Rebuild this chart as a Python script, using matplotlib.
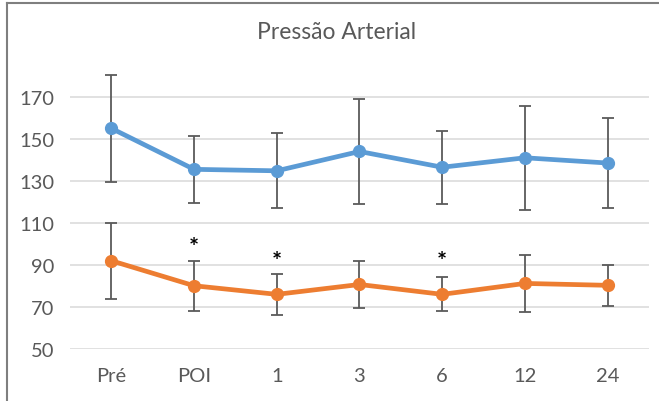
import matplotlib
matplotlib.use("Agg")
import matplotlib.pyplot as plt
from matplotlib.lines import Line2D

# Time points and series (mean ± SD)
categories = ["Pré", "POI", "1", "3", "6", "12", "24"]
pas_mean = [155.0, 135.5, 134.8, 144.0, 136.5, 141.0, 138.5]
pas_sd = [25.6, 16.1, 17.9, 25.2, 17.3, 24.7, 21.2]
pad_mean = [92.0, 80.1, 76.0, 80.7, 76.0, 81.2, 80.3]
pad_sd = [18.0, 12.0, 9.8, 11.0, 8.1, 13.5, 9.7]

# Significance marks: (category index, height)
sig_marks = [(1, 101.5), (2, 94.4), (4, 94.4)]

y_ticks = [50, 70, 90, 110, 130, 150, 170]

plt.rcParams["font.family"] = ["Lato", "DejaVu Sans"]

fig = plt.figure(figsize=(6.59, 4.02), dpi=100)
ax = fig.add_axes([0.1062, 0.1294, 0.8786, 0.7056])

x = list(range(len(categories)))
blue = "#5B9BD5"
orange = "#ED7D31"
err_color = "#5A5A5A"

for mean, sd, color in [(pas_mean, pas_sd, blue), (pad_mean, pad_sd, orange)]:
    ax.errorbar(x, mean, yerr=sd, fmt="none", ecolor=err_color,
                elinewidth=1.3, capsize=4.5, capthick=1.3, zorder=3)
    ax.plot(x, mean, color=color, lw=3.4, marker="o", markersize=8.5,
            solid_capstyle="round", zorder=4)

# Asterisk glyphs sit high in their box, so nudge them down onto the mark height
for xi, yi in sig_marks:
    ax.annotate("*", xy=(xi, yi), xytext=(0, -4.5), textcoords="offset points",
                ha="center", va="center", fontsize=17, fontweight="bold",
                color="black", zorder=5)

ax.set_xlim(-0.5, len(categories) - 0.5)
ax.set_ylim(50, 185)
ax.set_yticks(y_ticks)
ax.set_xticks(x)
ax.set_xticklabels(categories)
ax.yaxis.grid(True, color="#D9D9D9", lw=1.1)
ax.set_axisbelow(True)
for s in ax.spines.values():
    s.set_visible(False)
ax.tick_params(axis="both", length=0, labelsize=14.5, colors="#595959")
ax.tick_params(axis="x", pad=13)
ax.tick_params(axis="y", pad=11)

fig.text(0.51, 0.92, "Pressão Arterial", ha="center", va="center",
         fontsize=16.5, color="#595959")

# Chart frame (top and left edges)
fig.add_artist(Line2D([6.5 / 659, 6.5 / 659], [0, 1 - 3.5 / 402],
                      transform=fig.transFigure, color="#7F7F7F", lw=1.5))
fig.add_artist(Line2D([6.5 / 659, 1], [1 - 3.5 / 402, 1 - 3.5 / 402],
                      transform=fig.transFigure, color="#7F7F7F", lw=1.5))

fig.savefig("out.png", dpi=100)
